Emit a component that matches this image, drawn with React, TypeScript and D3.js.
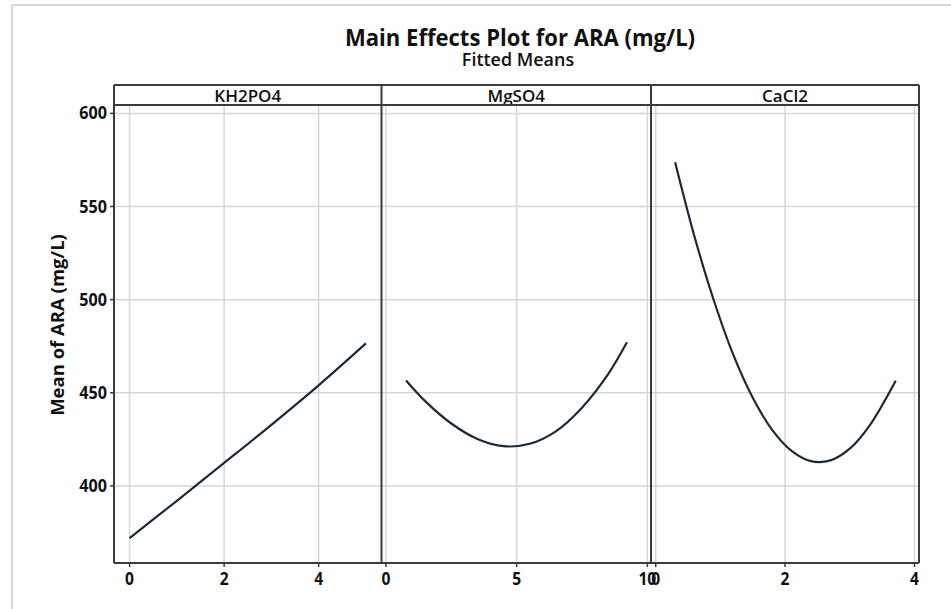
import React from "react";
import * as d3 from "d3";

const title = "Main Effects Plot for ARA (mg/L)";
const subtitle = "Fitted Means";
const yLabel = "Mean of ARA (mg/L)";
const yTicks = [400, 450, 500, 550, 600];

const factors = ["KH2PO4", "MgSO4", "CaCl2"];
const xTicksKH2PO4 = [0, 2, 4];
const xTicksMgSO4 = [0, 5, 10];
const xTicksCaCl2 = [0, 2, 4];

const levelsKH2PO4 = [0, 1, 2, 3, 4, 5];
const meansKH2PO4 = [372, 392, 412.3, 432.8, 454, 476.5];

const levelsMgSO4 = [0.77, 1.5, 2.5, 3.5, 4.5, 5.5, 6.5, 7.5, 8.5, 9.22];
const meansMgSO4 = [456.6, 445.5, 433.5, 425.2, 421.3, 422.6, 429.3, 442, 460, 477.1];

const levelsCaCl2 = [0.3, 0.6, 0.9, 1.2, 1.5, 1.8, 2.1, 2.4, 2.7, 3.0, 3.3, 3.71];
const meansCaCl2 = [573.8, 533.8, 499.4, 470.3, 447.3, 430.1, 418.8, 413.3, 413.7, 420, 432.1, 456.5];

const W = 951;
const H = 609;
const top = 85;
const stripBottom = 105;
const bottom = 563;
const panelEdges = [114, 381.5, 651, 919];
const xDomains: [number, number][] = [
  [-0.33, 5.33],
  [-0.17, 10.14],
  [-0.073, 4.07],
];

const FONT = "'Open Sans', 'DejaVu Sans', sans-serif";
const frameColor = "#3a3a3a";
const gridColor = "#d6d6d6";
const lineColor = "#1c2a38";

function Txt(props: {
  x: number;
  y: number;
  size: number;
  weight?: number;
  anchor?: string;
  sx?: number;
  rotate?: number;
  children: React.ReactNode;
}) {
  const { x, y, size, weight = 700, anchor = "middle", sx = 0.86, rotate = 0, children } = props;
  return (
    <text
      transform={`translate(${x},${y}) rotate(${rotate}) scale(${sx},1)`}
      textAnchor={anchor}
      fontFamily={FONT}
      fontWeight={weight}
      fontSize={size}
      fill="#111"
    >
      {children}
    </text>
  );
}

export default function App() {
  const y = d3.scaleLinear().domain([358.6, 604.5]).range([bottom, stripBottom]);
  const panels = [
    { name: factors[0], ticks: xTicksKH2PO4, xs: levelsKH2PO4, ys: meansKH2PO4 },
    { name: factors[1], ticks: xTicksMgSO4, xs: levelsMgSO4, ys: meansMgSO4 },
    { name: factors[2], ticks: xTicksCaCl2, xs: levelsCaCl2, ys: meansCaCl2 },
  ];
  const left = panelEdges[0];
  const right = panelEdges[panelEdges.length - 1];

  return (
    <svg width={W} height={H} style={{ position: "absolute", left: 0, top: 0, background: "#fff" }}>
      <rect x={0} y={0} width={W} height={H} fill="#fff" />
      <line x1={12} y1={5} x2={W} y2={5} stroke="#d9d9d9" strokeWidth={2} />
      <line x1={12} y1={5} x2={12} y2={H} stroke="#d9d9d9" strokeWidth={2} />

      <Txt x={520} y={46} size={24} weight={700} sx={0.92}>{title}</Txt>
      <Txt x={518} y={66} size={18.5} weight={600} sx={0.97}>{subtitle}</Txt>

      {yTicks.map((t) => (
        <line key={"yg" + t} x1={left} x2={right} y1={y(t)} y2={y(t)} stroke={gridColor} strokeWidth={1.5} />
      ))}

      {panels.map((p, i) => {
        const x = d3.scaleLinear().domain(xDomains[i]).range([panelEdges[i], panelEdges[i + 1]]);
        const line = d3
          .line<number>()
          .x((_, k) => x(p.xs[k]))
          .y((v) => y(v))
          .curve(d3.curveCatmullRom.alpha(0.5));
        const cx = (panelEdges[i] + panelEdges[i + 1]) / 2;
        return (
          <g key={p.name}>
            {p.ticks.map((t) => (
              <g key={"xt" + t}>
                <line x1={x(t)} x2={x(t)} y1={stripBottom} y2={bottom} stroke={gridColor} strokeWidth={1.5} />
                <line x1={x(t)} x2={x(t)} y1={bottom} y2={bottom + 4} stroke={frameColor} strokeWidth={1.5} />
                <Txt x={x(t)} y={585} size={17} sx={0.92}>{t}</Txt>
              </g>
            ))}
            <path d={line(p.ys) || ""} fill="none" stroke={lineColor} strokeWidth={2.2} />
            <Txt x={cx} y={101.5} size={17} weight={600} sx={1.0}>{p.name}</Txt>
          </g>
        );
      })}

      <line x1={left} x2={right} y1={top} y2={top} stroke={frameColor} strokeWidth={2} />
      <line x1={left} x2={right} y1={stripBottom} y2={stripBottom} stroke={frameColor} strokeWidth={2} />
      <line x1={left} x2={right} y1={bottom} y2={bottom} stroke={frameColor} strokeWidth={2} />
      {panelEdges.map((e, i) => (
        <line key={"pe" + i} x1={e} x2={e} y1={top} y2={bottom} stroke={frameColor} strokeWidth={2} />
      ))}

      {yTicks.map((t) => (
        <g key={"yt" + t}>
          <line x1={left - 4} x2={left} y1={y(t)} y2={y(t)} stroke={frameColor} strokeWidth={1.5} />
          <Txt x={left - 7} y={y(t) + 6} size={17} anchor="end" sx={0.95}>{t}</Txt>
        </g>
      ))}
      <Txt x={64} y={325} size={18.5} rotate={-90} sx={1.0}>{yLabel}</Txt>
    </svg>
  );
}
